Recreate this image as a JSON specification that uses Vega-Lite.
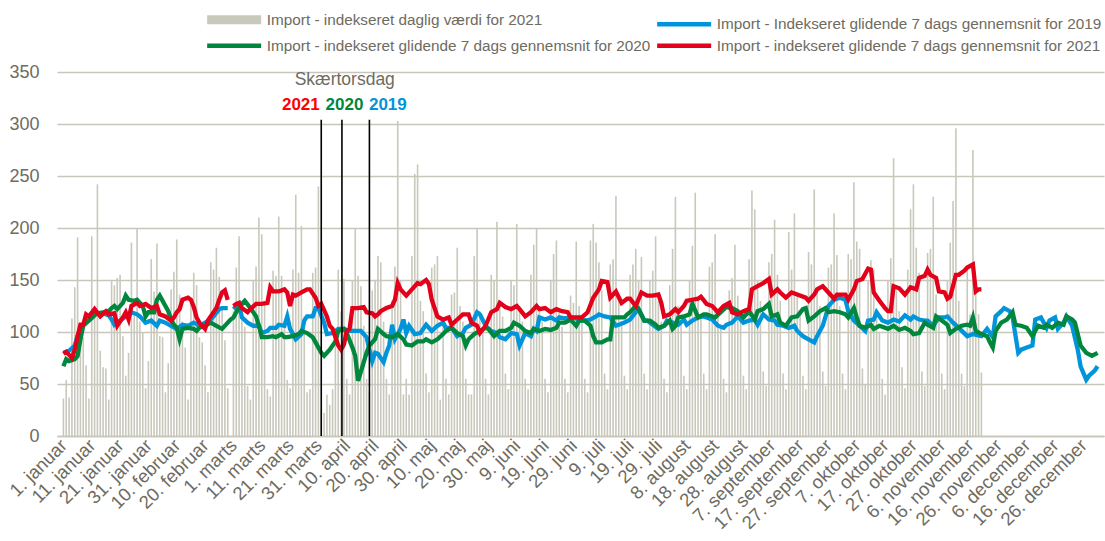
{
"$schema": "https://vega.github.io/schema/vega-lite/v6.json",
"width": 1047, "height": 364,
"autosize": {"type": "none"},
"padding": {"left": 57, "top": 72, "right": 1, "bottom": 105},
"background": "white",
"config": {"view": {"stroke": null}, "font": "Liberation Sans, Arial, sans-serif",
 "axisX": {"labelAngle": -45, "labelAlign": "right", "labelBaseline": "middle", "labelFontSize": 18.5, "labelColor": "#6e6b61",
    "labelPadding": 6, "labelBound": false, "labelFlush": false, "ticks": false, "grid": false,
    "domain": true, "domainColor": "#c8c6ba", "domainWidth": 1.5, "title": null},
 "axisY": {"title": null, "grid": true, "gridColor": "#c8c6ba", "gridWidth": 1.3,
    "domain": false, "ticks": false, "labelFontSize": 18, "labelColor": "#6e6b61", "labelPadding": 18},
 "legend": {"title": null, "orient": "none", "legendX": 169.5, "legendY": -60, "columns": 2, "direction": "horizontal",
    "symbolType": "stroke", "symbolSize": 2916, "symbolStrokeWidth": 4.5,
    "labelFontSize": 15.3, "labelColor": "#6e6b61", "labelOffset": 25, "labelLimit": 0,
    "columnPadding": -3, "rowPadding": -6, "padding": 0}
},
"datasets": {
"daily": [
{"d":1,"v":36},{"d":2,"v":54},{"d":3,"v":37},
{"d":4,"v":113},{"d":5,"v":143},{"d":6,"v":191},{"d":7,"v":108},{"d":8,"v":95},{"d":9,"v":68},{"d":10,"v":36},
{"d":11,"v":192},{"d":12,"v":120},{"d":13,"v":242},{"d":14,"v":82},{"d":15,"v":66},{"d":16,"v":65},{"d":17,"v":35},
{"d":18,"v":150},{"d":19,"v":145},{"d":20,"v":152},{"d":21,"v":155},{"d":22,"v":96},{"d":23,"v":58},{"d":24,"v":80},
{"d":25,"v":186},{"d":26,"v":120},{"d":27,"v":200},{"d":28,"v":110},{"d":29,"v":100},{"d":30,"v":46},{"d":31,"v":72},
{"d":32,"v":170},{"d":33,"v":139},{"d":34,"v":185},{"d":35,"v":96},{"d":36,"v":95},{"d":37,"v":42},{"d":38,"v":70},
{"d":39,"v":141},{"d":40,"v":158},{"d":41,"v":189},{"d":42,"v":136},{"d":43,"v":110},{"d":44,"v":85},{"d":45,"v":35},
{"d":46,"v":130},{"d":47,"v":157},{"d":48,"v":145},{"d":49,"v":95},{"d":50,"v":90},{"d":51,"v":68},{"d":52,"v":42},
{"d":53,"v":167},{"d":54,"v":160},{"d":55,"v":181},{"d":56,"v":153},{"d":57,"v":125},{"d":58,"v":92},{"d":59,"v":46},
{"d":61,"v":120},{"d":62,"v":162},{"d":63,"v":192},{"d":64,"v":112},{"d":65,"v":105},{"d":66,"v":48},{"d":67,"v":35},
{"d":68,"v":150},{"d":69,"v":163},{"d":70,"v":210},{"d":71,"v":194},{"d":72,"v":130},{"d":73,"v":45},{"d":74,"v":38},
{"d":75,"v":159},{"d":76,"v":154},{"d":77,"v":211},{"d":78,"v":154},{"d":79,"v":110},{"d":80,"v":54},{"d":81,"v":46},
{"d":82,"v":160},{"d":83,"v":232},{"d":84,"v":157},{"d":85,"v":202},{"d":86,"v":115},{"d":87,"v":42},{"d":88,"v":45},
{"d":89,"v":157},{"d":90,"v":162},{"d":91,"v":240},{"d":92,"v":26},{"d":93,"v":22},{"d":94,"v":40},{"d":95,"v":30},
{"d":96,"v":45},{"d":97,"v":100},{"d":98,"v":160},{"d":99,"v":120},{"d":100,"v":151},{"d":101,"v":55},{"d":102,"v":40},
{"d":103,"v":150},{"d":104,"v":200},{"d":105,"v":154},{"d":106,"v":144},{"d":107,"v":106},{"d":108,"v":55},{"d":109,"v":42},
{"d":110,"v":140},{"d":111,"v":150},{"d":112,"v":173},{"d":113,"v":167},{"d":114,"v":110},{"d":115,"v":55},{"d":116,"v":40},
{"d":117,"v":130},{"d":118,"v":163},{"d":119,"v":303},{"d":120,"v":150},{"d":121,"v":40},{"d":122,"v":55},{"d":123,"v":40},
{"d":124,"v":173},{"d":125,"v":252},{"d":126,"v":261},{"d":127,"v":130},{"d":128,"v":120},{"d":129,"v":60},{"d":130,"v":42},
{"d":131,"v":162},{"d":132,"v":165},{"d":133,"v":173},{"d":134,"v":35},{"d":135,"v":110},{"d":136,"v":55},{"d":137,"v":40},
{"d":138,"v":136},{"d":139,"v":138},{"d":140,"v":181},{"d":141,"v":125},{"d":142,"v":110},{"d":143,"v":55},{"d":144,"v":40},
{"d":145,"v":40},{"d":146,"v":173},{"d":147,"v":200},{"d":148,"v":120},{"d":149,"v":105},{"d":150,"v":55},{"d":151,"v":40},
{"d":152,"v":155},{"d":153,"v":150},{"d":154,"v":206},{"d":155,"v":130},{"d":156,"v":115},{"d":157,"v":60},{"d":158,"v":45},
{"d":159,"v":150},{"d":160,"v":145},{"d":161,"v":204},{"d":162,"v":125},{"d":163,"v":110},{"d":164,"v":55},{"d":165,"v":45},
{"d":166,"v":155},{"d":167,"v":184},{"d":168,"v":199},{"d":169,"v":120},{"d":170,"v":110},{"d":171,"v":55},{"d":172,"v":42},
{"d":173,"v":150},{"d":174,"v":175},{"d":175,"v":188},{"d":176,"v":120},{"d":177,"v":105},{"d":178,"v":55},{"d":179,"v":42},
{"d":180,"v":135},{"d":181,"v":128},{"d":182,"v":187},{"d":183,"v":125},{"d":184,"v":115},{"d":185,"v":55},{"d":186,"v":42},
{"d":187,"v":188},{"d":188,"v":204},{"d":189,"v":186},{"d":190,"v":167},{"d":191,"v":140},{"d":192,"v":60},{"d":193,"v":45},
{"d":194,"v":165},{"d":195,"v":170},{"d":196,"v":231},{"d":197,"v":135},{"d":198,"v":110},{"d":199,"v":58},{"d":200,"v":45},
{"d":201,"v":155},{"d":202,"v":165},{"d":203,"v":180},{"d":204,"v":150},{"d":205,"v":172},{"d":206,"v":60},{"d":207,"v":45},
{"d":208,"v":150},{"d":209,"v":159},{"d":210,"v":192},{"d":211,"v":130},{"d":212,"v":110},{"d":213,"v":55},{"d":214,"v":42},
{"d":215,"v":145},{"d":216,"v":180},{"d":217,"v":230},{"d":218,"v":125},{"d":219,"v":110},{"d":220,"v":58},{"d":221,"v":45},
{"d":222,"v":150},{"d":223,"v":183},{"d":224,"v":234},{"d":225,"v":130},{"d":226,"v":115},{"d":227,"v":60},{"d":228,"v":45},
{"d":229,"v":163},{"d":230,"v":167},{"d":231,"v":194},{"d":232,"v":120},{"d":233,"v":105},{"d":234,"v":55},{"d":235,"v":42},
{"d":236,"v":140},{"d":237,"v":152},{"d":238,"v":184},{"d":239,"v":135},{"d":240,"v":110},{"d":241,"v":58},{"d":242,"v":45},
{"d":243,"v":170},{"d":244,"v":236},{"d":245,"v":218},{"d":246,"v":150},{"d":247,"v":130},{"d":248,"v":62},{"d":249,"v":48},
{"d":250,"v":167},{"d":251,"v":175},{"d":252,"v":208},{"d":253,"v":155},{"d":254,"v":130},{"d":255,"v":60},{"d":256,"v":45},
{"d":257,"v":196},{"d":258,"v":160},{"d":259,"v":214},{"d":260,"v":135},{"d":261,"v":120},{"d":262,"v":58},{"d":263,"v":45},
{"d":264,"v":177},{"d":265,"v":165},{"d":266,"v":237},{"d":267,"v":140},{"d":268,"v":125},{"d":269,"v":62},{"d":270,"v":48},
{"d":271,"v":162},{"d":272,"v":165},{"d":273,"v":214},{"d":274,"v":174},{"d":275,"v":125},{"d":276,"v":60},{"d":277,"v":45},
{"d":278,"v":175},{"d":279,"v":170},{"d":280,"v":244},{"d":281,"v":187},{"d":282,"v":180},{"d":283,"v":65},{"d":284,"v":50},
{"d":285,"v":150},{"d":286,"v":169},{"d":287,"v":160},{"d":288,"v":120},{"d":289,"v":100},{"d":290,"v":55},{"d":291,"v":40},
{"d":292,"v":150},{"d":293,"v":171},{"d":294,"v":267},{"d":295,"v":140},{"d":296,"v":120},{"d":297,"v":66},{"d":298,"v":46},
{"d":299,"v":160},{"d":300,"v":218},{"d":301,"v":242},{"d":302,"v":181},{"d":303,"v":157},{"d":304,"v":62},{"d":305,"v":48},
{"d":306,"v":176},{"d":307,"v":180},{"d":308,"v":230},{"d":309,"v":136},{"d":310,"v":110},{"d":311,"v":60},{"d":312,"v":45},
{"d":313,"v":150},{"d":314,"v":186},{"d":315,"v":226},{"d":316,"v":296},{"d":317,"v":130},{"d":318,"v":60},{"d":319,"v":48},
{"d":320,"v":160},{"d":321,"v":117},{"d":322,"v":275},{"d":323,"v":150},{"d":324,"v":117},{"d":325,"v":61}
],
"avg": [
{"d":1,"a":"2019","v":80},{"d":3,"a":"2019","v":82},{"d":5,"a":"2019","v":87},{"d":6,"a":"2019","v":96},{"d":8,"a":"2019","v":107},{"d":10,"a":"2019","v":112},{"d":12,"a":"2019","v":117},{"d":13,"a":"2019","v":118},{"d":15,"a":"2019","v":118},{"d":17,"a":"2019","v":116},{"d":18,"a":"2019","v":112},{"d":19,"a":"2019","v":107},{"d":21,"a":"2019","v":111},{"d":23,"a":"2019","v":115},{"d":24,"a":"2019","v":115},{"d":25,"a":"2019","v":119},{"d":27,"a":"2019","v":117},{"d":28,"a":"2019","v":115},{"d":30,"a":"2019","v":109},{"d":32,"a":"2019","v":111},{"d":34,"a":"2019","v":106},{"d":35,"a":"2019","v":111},{"d":37,"a":"2019","v":109},{"d":39,"a":"2019","v":106},{"d":41,"a":"2019","v":103},{"d":43,"a":"2019","v":107},{"d":45,"a":"2019","v":106},{"d":47,"a":"2019","v":109},{"d":49,"a":"2019","v":106},{"d":51,"a":"2019","v":109},{"d":53,"a":"2019","v":112},{"d":54,"a":"2019","v":115},{"d":56,"a":"2019","v":122},{"d":57,"a":"2019","v":123},{"d":59,"a":"2019","v":123},{"d":60,"a":"2019","v":null},{"d":61,"a":"2019","v":122},{"d":63,"a":"2019","v":127},{"d":64,"a":"2019","v":114},{"d":66,"a":"2019","v":109},{"d":68,"a":"2019","v":106},{"d":70,"a":"2019","v":106},{"d":71,"a":"2019","v":99},{"d":73,"a":"2019","v":101},{"d":74,"a":"2019","v":104},{"d":76,"a":"2019","v":104},{"d":77,"a":"2019","v":107},{"d":79,"a":"2019","v":106},{"d":80,"a":"2019","v":115},{"d":81,"a":"2019","v":103},{"d":83,"a":"2019","v":93},{"d":85,"a":"2019","v":98},{"d":86,"a":"2019","v":111},{"d":87,"a":"2019","v":115},{"d":89,"a":"2019","v":115},{"d":90,"a":"2019","v":123},{"d":91,"a":"2019","v":123},{"d":93,"a":"2019","v":109},{"d":94,"a":"2019","v":98},{"d":96,"a":"2019","v":99},{"d":98,"a":"2019","v":103},{"d":100,"a":"2019","v":103},{"d":102,"a":"2019","v":101},{"d":104,"a":"2019","v":101},{"d":106,"a":"2019","v":101},{"d":108,"a":"2019","v":95},{"d":109,"a":"2019","v":83},{"d":110,"a":"2019","v":72},{"d":111,"a":"2019","v":80},{"d":112,"a":"2019","v":79},{"d":114,"a":"2019","v":71},{"d":115,"a":"2019","v":80},{"d":116,"a":"2019","v":87},{"d":117,"a":"2019","v":107},{"d":118,"a":"2019","v":93},{"d":120,"a":"2019","v":103},{"d":121,"a":"2019","v":112},{"d":122,"a":"2019","v":99},{"d":123,"a":"2019","v":106},{"d":125,"a":"2019","v":98},{"d":127,"a":"2019","v":99},{"d":129,"a":"2019","v":107},{"d":131,"a":"2019","v":101},{"d":133,"a":"2019","v":106},{"d":135,"a":"2019","v":109},{"d":136,"a":"2019","v":104},{"d":138,"a":"2019","v":104},{"d":140,"a":"2019","v":96},{"d":142,"a":"2019","v":99},{"d":143,"a":"2019","v":104},{"d":145,"a":"2019","v":107},{"d":147,"a":"2019","v":119},{"d":148,"a":"2019","v":117},{"d":150,"a":"2019","v":106},{"d":152,"a":"2019","v":101},{"d":154,"a":"2019","v":99},{"d":155,"a":"2019","v":95},{"d":157,"a":"2019","v":93},{"d":159,"a":"2019","v":99},{"d":161,"a":"2019","v":98},{"d":162,"a":"2019","v":87},{"d":164,"a":"2019","v":99},{"d":166,"a":"2019","v":96},{"d":167,"a":"2019","v":103},{"d":168,"a":"2019","v":101},{"d":169,"a":"2019","v":114},{"d":171,"a":"2019","v":112},{"d":173,"a":"2019","v":114},{"d":175,"a":"2019","v":111},{"d":176,"a":"2019","v":114},{"d":178,"a":"2019","v":113},{"d":180,"a":"2019","v":114},{"d":182,"a":"2019","v":113},{"d":183,"a":"2019","v":111},{"d":185,"a":"2019","v":111},{"d":187,"a":"2019","v":112},{"d":189,"a":"2019","v":115},{"d":190,"a":"2019","v":117},{"d":192,"a":"2019","v":115},{"d":194,"a":"2019","v":114},{"d":196,"a":"2019","v":106},{"d":197,"a":"2019","v":107},{"d":199,"a":"2019","v":109},{"d":201,"a":"2019","v":112},{"d":203,"a":"2019","v":119},{"d":204,"a":"2019","v":122},{"d":206,"a":"2019","v":111},{"d":207,"a":"2019","v":111},{"d":209,"a":"2019","v":107},{"d":211,"a":"2019","v":103},{"d":213,"a":"2019","v":106},{"d":214,"a":"2019","v":111},{"d":216,"a":"2019","v":109},{"d":218,"a":"2019","v":107},{"d":220,"a":"2019","v":112},{"d":221,"a":"2019","v":107},{"d":223,"a":"2019","v":111},{"d":225,"a":"2019","v":114},{"d":227,"a":"2019","v":115},{"d":228,"a":"2019","v":114},{"d":230,"a":"2019","v":112},{"d":232,"a":"2019","v":106},{"d":234,"a":"2019","v":104},{"d":235,"a":"2019","v":107},{"d":237,"a":"2019","v":109},{"d":239,"a":"2019","v":115},{"d":241,"a":"2019","v":109},{"d":243,"a":"2019","v":111},{"d":245,"a":"2019","v":112},{"d":246,"a":"2019","v":107},{"d":248,"a":"2019","v":117},{"d":250,"a":"2019","v":112},{"d":252,"a":"2019","v":111},{"d":253,"a":"2019","v":107},{"d":255,"a":"2019","v":106},{"d":257,"a":"2019","v":104},{"d":259,"a":"2019","v":106},{"d":260,"a":"2019","v":101},{"d":262,"a":"2019","v":96},{"d":264,"a":"2019","v":93},{"d":266,"a":"2019","v":90},{"d":267,"a":"2019","v":96},{"d":269,"a":"2019","v":106},{"d":270,"a":"2019","v":115},{"d":271,"a":"2019","v":125},{"d":273,"a":"2019","v":131},{"d":275,"a":"2019","v":133},{"d":277,"a":"2019","v":131},{"d":278,"a":"2019","v":120},{"d":280,"a":"2019","v":111},{"d":282,"a":"2019","v":106},{"d":284,"a":"2019","v":101},{"d":285,"a":"2019","v":111},{"d":287,"a":"2019","v":112},{"d":288,"a":"2019","v":119},{"d":290,"a":"2019","v":111},{"d":292,"a":"2019","v":109},{"d":294,"a":"2019","v":112},{"d":296,"a":"2019","v":110},{"d":298,"a":"2019","v":116},{"d":300,"a":"2019","v":112},{"d":301,"a":"2019","v":115},{"d":303,"a":"2019","v":112},{"d":305,"a":"2019","v":111},{"d":306,"a":"2019","v":111},{"d":308,"a":"2019","v":106},{"d":310,"a":"2019","v":114},{"d":312,"a":"2019","v":114},{"d":313,"a":"2019","v":115},{"d":315,"a":"2019","v":109},{"d":317,"a":"2019","v":104},{"d":320,"a":"2019","v":96},{"d":322,"a":"2019","v":98},{"d":325,"a":"2019","v":96},{"d":327,"a":"2019","v":103},{"d":329,"a":"2019","v":95},{"d":330,"a":"2019","v":115},{"d":332,"a":"2019","v":120},{"d":333,"a":"2019","v":123},{"d":335,"a":"2019","v":120},{"d":336,"a":"2019","v":114},{"d":338,"a":"2019","v":80},{"d":339,"a":"2019","v":83},{"d":341,"a":"2019","v":85},{"d":343,"a":"2019","v":87},{"d":344,"a":"2019","v":112},{"d":346,"a":"2019","v":114},{"d":348,"a":"2019","v":104},{"d":349,"a":"2019","v":111},{"d":351,"a":"2019","v":114},{"d":352,"a":"2019","v":103},{"d":354,"a":"2019","v":109},{"d":355,"a":"2019","v":115},{"d":357,"a":"2019","v":106},{"d":359,"a":"2019","v":83},{"d":360,"a":"2019","v":67},{"d":362,"a":"2019","v":54},{"d":363,"a":"2019","v":58},{"d":365,"a":"2019","v":63},{"d":366,"a":"2019","v":67},
{"d":1,"a":"2020","v":67},{"d":2,"a":"2020","v":74},{"d":3,"a":"2020","v":72},{"d":5,"a":"2020","v":74},{"d":6,"a":"2020","v":77},{"d":7,"a":"2020","v":93},{"d":8,"a":"2020","v":106},{"d":10,"a":"2020","v":111},{"d":12,"a":"2020","v":116},{"d":13,"a":"2020","v":118},{"d":15,"a":"2020","v":119},{"d":17,"a":"2020","v":120},{"d":18,"a":"2020","v":123},{"d":19,"a":"2020","v":125},{"d":20,"a":"2020","v":122},{"d":22,"a":"2020","v":128},{"d":23,"a":"2020","v":135},{"d":24,"a":"2020","v":131},{"d":26,"a":"2020","v":130},{"d":27,"a":"2020","v":131},{"d":29,"a":"2020","v":125},{"d":30,"a":"2020","v":115},{"d":31,"a":"2020","v":119},{"d":33,"a":"2020","v":119},{"d":34,"a":"2020","v":131},{"d":35,"a":"2020","v":135},{"d":37,"a":"2020","v":125},{"d":38,"a":"2020","v":120},{"d":39,"a":"2020","v":112},{"d":40,"a":"2020","v":107},{"d":41,"a":"2020","v":104},{"d":42,"a":"2020","v":93},{"d":43,"a":"2020","v":103},{"d":45,"a":"2020","v":104},{"d":47,"a":"2020","v":103},{"d":48,"a":"2020","v":101},{"d":49,"a":"2020","v":104},{"d":51,"a":"2020","v":106},{"d":53,"a":"2020","v":109},{"d":55,"a":"2020","v":106},{"d":57,"a":"2020","v":103},{"d":59,"a":"2020","v":109},{"d":60,"a":"2020","v":112},{"d":61,"a":"2020","v":114},{"d":62,"a":"2020","v":119},{"d":64,"a":"2020","v":127},{"d":65,"a":"2020","v":130},{"d":67,"a":"2020","v":123},{"d":69,"a":"2020","v":115},{"d":70,"a":"2020","v":106},{"d":71,"a":"2020","v":95},{"d":73,"a":"2020","v":95},{"d":75,"a":"2020","v":96},{"d":76,"a":"2020","v":95},{"d":78,"a":"2020","v":98},{"d":79,"a":"2020","v":95},{"d":80,"a":"2020","v":95},{"d":82,"a":"2020","v":96},{"d":84,"a":"2020","v":98},{"d":85,"a":"2020","v":101},{"d":87,"a":"2020","v":99},{"d":89,"a":"2020","v":95},{"d":90,"a":"2020","v":90},{"d":92,"a":"2020","v":80},{"d":93,"a":"2020","v":77},{"d":95,"a":"2020","v":83},{"d":97,"a":"2020","v":91},{"d":98,"a":"2020","v":101},{"d":100,"a":"2020","v":103},{"d":101,"a":"2020","v":99},{"d":103,"a":"2020","v":85},{"d":104,"a":"2020","v":77},{"d":105,"a":"2020","v":53},{"d":106,"a":"2020","v":62},{"d":108,"a":"2020","v":80},{"d":109,"a":"2020","v":87},{"d":111,"a":"2020","v":93},{"d":112,"a":"2020","v":103},{"d":114,"a":"2020","v":98},{"d":115,"a":"2020","v":96},{"d":117,"a":"2020","v":95},{"d":119,"a":"2020","v":98},{"d":121,"a":"2020","v":93},{"d":122,"a":"2020","v":88},{"d":124,"a":"2020","v":87},{"d":126,"a":"2020","v":91},{"d":128,"a":"2020","v":91},{"d":129,"a":"2020","v":93},{"d":131,"a":"2020","v":90},{"d":133,"a":"2020","v":93},{"d":135,"a":"2020","v":98},{"d":136,"a":"2020","v":101},{"d":138,"a":"2020","v":104},{"d":140,"a":"2020","v":99},{"d":142,"a":"2020","v":96},{"d":143,"a":"2020","v":87},{"d":144,"a":"2020","v":93},{"d":146,"a":"2020","v":98},{"d":148,"a":"2020","v":101},{"d":150,"a":"2020","v":104},{"d":151,"a":"2020","v":103},{"d":153,"a":"2020","v":96},{"d":155,"a":"2020","v":101},{"d":157,"a":"2020","v":101},{"d":159,"a":"2020","v":104},{"d":160,"a":"2020","v":109},{"d":162,"a":"2020","v":106},{"d":164,"a":"2020","v":101},{"d":166,"a":"2020","v":99},{"d":167,"a":"2020","v":103},{"d":169,"a":"2020","v":101},{"d":171,"a":"2020","v":103},{"d":173,"a":"2020","v":102},{"d":175,"a":"2020","v":104},{"d":176,"a":"2020","v":109},{"d":178,"a":"2020","v":109},{"d":180,"a":"2020","v":112},{"d":182,"a":"2020","v":106},{"d":183,"a":"2020","v":111},{"d":185,"a":"2020","v":111},{"d":187,"a":"2020","v":106},{"d":188,"a":"2020","v":96},{"d":189,"a":"2020","v":90},{"d":191,"a":"2020","v":90},{"d":193,"a":"2020","v":93},{"d":194,"a":"2020","v":93},{"d":195,"a":"2020","v":114},{"d":197,"a":"2020","v":114},{"d":199,"a":"2020","v":114},{"d":200,"a":"2020","v":117},{"d":201,"a":"2020","v":119},{"d":203,"a":"2020","v":125},{"d":204,"a":"2020","v":122},{"d":206,"a":"2020","v":111},{"d":208,"a":"2020","v":111},{"d":210,"a":"2020","v":107},{"d":211,"a":"2020","v":104},{"d":213,"a":"2020","v":106},{"d":215,"a":"2020","v":111},{"d":216,"a":"2020","v":103},{"d":217,"a":"2020","v":106},{"d":218,"a":"2020","v":114},{"d":220,"a":"2020","v":115},{"d":222,"a":"2020","v":117},{"d":223,"a":"2020","v":127},{"d":225,"a":"2020","v":114},{"d":227,"a":"2020","v":117},{"d":228,"a":"2020","v":117},{"d":230,"a":"2020","v":115},{"d":231,"a":"2020","v":114},{"d":233,"a":"2020","v":119},{"d":235,"a":"2020","v":124},{"d":237,"a":"2020","v":123},{"d":239,"a":"2020","v":120},{"d":241,"a":"2020","v":114},{"d":243,"a":"2020","v":120},{"d":245,"a":"2020","v":112},{"d":246,"a":"2020","v":120},{"d":248,"a":"2020","v":122},{"d":250,"a":"2020","v":127},{"d":251,"a":"2020","v":115},{"d":253,"a":"2020","v":117},{"d":254,"a":"2020","v":109},{"d":256,"a":"2020","v":106},{"d":258,"a":"2020","v":114},{"d":260,"a":"2020","v":115},{"d":262,"a":"2020","v":122},{"d":263,"a":"2020","v":123},{"d":264,"a":"2020","v":111},{"d":266,"a":"2020","v":115},{"d":268,"a":"2020","v":120},{"d":270,"a":"2020","v":123},{"d":271,"a":"2020","v":119},{"d":273,"a":"2020","v":120},{"d":275,"a":"2020","v":119},{"d":277,"a":"2020","v":117},{"d":278,"a":"2020","v":114},{"d":280,"a":"2020","v":123},{"d":281,"a":"2020","v":114},{"d":282,"a":"2020","v":106},{"d":284,"a":"2020","v":104},{"d":286,"a":"2020","v":107},{"d":287,"a":"2020","v":103},{"d":289,"a":"2020","v":106},{"d":291,"a":"2020","v":104},{"d":292,"a":"2020","v":103},{"d":294,"a":"2020","v":106},{"d":296,"a":"2020","v":102},{"d":298,"a":"2020","v":104},{"d":300,"a":"2020","v":101},{"d":301,"a":"2020","v":98},{"d":303,"a":"2020","v":99},{"d":305,"a":"2020","v":109},{"d":306,"a":"2020","v":107},{"d":308,"a":"2020","v":104},{"d":309,"a":"2020","v":115},{"d":311,"a":"2020","v":111},{"d":313,"a":"2020","v":107},{"d":314,"a":"2020","v":99},{"d":316,"a":"2020","v":103},{"d":318,"a":"2020","v":106},{"d":320,"a":"2020","v":107},{"d":321,"a":"2020","v":106},{"d":322,"a":"2020","v":114},{"d":323,"a":"2020","v":101},{"d":325,"a":"2020","v":98},{"d":327,"a":"2020","v":96},{"d":328,"a":"2020","v":90},{"d":329,"a":"2020","v":85},{"d":330,"a":"2020","v":101},{"d":332,"a":"2020","v":109},{"d":334,"a":"2020","v":112},{"d":336,"a":"2020","v":119},{"d":337,"a":"2020","v":107},{"d":339,"a":"2020","v":106},{"d":341,"a":"2020","v":104},{"d":343,"a":"2020","v":96},{"d":345,"a":"2020","v":106},{"d":347,"a":"2020","v":104},{"d":348,"a":"2020","v":107},{"d":350,"a":"2020","v":104},{"d":352,"a":"2020","v":109},{"d":354,"a":"2020","v":107},{"d":355,"a":"2020","v":115},{"d":357,"a":"2020","v":112},{"d":358,"a":"2020","v":109},{"d":360,"a":"2020","v":87},{"d":362,"a":"2020","v":80},{"d":364,"a":"2020","v":77},{"d":366,"a":"2020","v":80},
{"d":1,"a":"2021","v":79},{"d":2,"a":"2021","v":81},{"d":3,"a":"2021","v":78},{"d":4,"a":"2021","v":75},{"d":5,"a":"2021","v":83},{"d":6,"a":"2021","v":96},{"d":7,"a":"2021","v":107},{"d":8,"a":"2021","v":107},{"d":9,"a":"2021","v":117},{"d":10,"a":"2021","v":115},{"d":12,"a":"2021","v":122},{"d":14,"a":"2021","v":115},{"d":16,"a":"2021","v":120},{"d":17,"a":"2021","v":117},{"d":19,"a":"2021","v":118},{"d":20,"a":"2021","v":106},{"d":22,"a":"2021","v":114},{"d":23,"a":"2021","v":119},{"d":24,"a":"2021","v":112},{"d":25,"a":"2021","v":125},{"d":27,"a":"2021","v":128},{"d":28,"a":"2021","v":125},{"d":30,"a":"2021","v":127},{"d":32,"a":"2021","v":123},{"d":34,"a":"2021","v":125},{"d":35,"a":"2021","v":117},{"d":37,"a":"2021","v":115},{"d":39,"a":"2021","v":111},{"d":40,"a":"2021","v":114},{"d":41,"a":"2021","v":119},{"d":42,"a":"2021","v":122},{"d":43,"a":"2021","v":131},{"d":45,"a":"2021","v":133},{"d":46,"a":"2021","v":131},{"d":47,"a":"2021","v":124},{"d":48,"a":"2021","v":114},{"d":49,"a":"2021","v":109},{"d":51,"a":"2021","v":103},{"d":52,"a":"2021","v":111},{"d":54,"a":"2021","v":119},{"d":55,"a":"2021","v":123},{"d":56,"a":"2021","v":131},{"d":57,"a":"2021","v":138},{"d":58,"a":"2021","v":140},{"d":59,"a":"2021","v":131},{"d":60,"a":"2021","v":null},{"d":61,"a":"2021","v":125},{"d":62,"a":"2021","v":127},{"d":63,"a":"2021","v":128},{"d":64,"a":"2021","v":123},{"d":66,"a":"2021","v":119},{"d":67,"a":"2021","v":122},{"d":69,"a":"2021","v":127},{"d":71,"a":"2021","v":127},{"d":73,"a":"2021","v":128},{"d":74,"a":"2021","v":143},{"d":75,"a":"2021","v":139},{"d":77,"a":"2021","v":139},{"d":79,"a":"2021","v":141},{"d":80,"a":"2021","v":138},{"d":81,"a":"2021","v":125},{"d":82,"a":"2021","v":136},{"d":83,"a":"2021","v":135},{"d":85,"a":"2021","v":138},{"d":87,"a":"2021","v":141},{"d":88,"a":"2021","v":141},{"d":90,"a":"2021","v":133},{"d":91,"a":"2021","v":125},{"d":92,"a":"2021","v":127},{"d":94,"a":"2021","v":115},{"d":95,"a":"2021","v":106},{"d":96,"a":"2021","v":103},{"d":97,"a":"2021","v":95},{"d":98,"a":"2021","v":87},{"d":99,"a":"2021","v":83},{"d":100,"a":"2021","v":88},{"d":101,"a":"2021","v":101},{"d":102,"a":"2021","v":103},{"d":103,"a":"2021","v":123},{"d":105,"a":"2021","v":123},{"d":107,"a":"2021","v":124},{"d":108,"a":"2021","v":119},{"d":110,"a":"2021","v":118},{"d":111,"a":"2021","v":115},{"d":112,"a":"2021","v":117},{"d":113,"a":"2021","v":120},{"d":115,"a":"2021","v":123},{"d":117,"a":"2021","v":125},{"d":118,"a":"2021","v":131},{"d":119,"a":"2021","v":147},{"d":120,"a":"2021","v":141},{"d":122,"a":"2021","v":135},{"d":124,"a":"2021","v":141},{"d":126,"a":"2021","v":147},{"d":127,"a":"2021","v":146},{"d":129,"a":"2021","v":150},{"d":130,"a":"2021","v":146},{"d":131,"a":"2021","v":131},{"d":133,"a":"2021","v":115},{"d":135,"a":"2021","v":112},{"d":137,"a":"2021","v":114},{"d":138,"a":"2021","v":107},{"d":140,"a":"2021","v":112},{"d":142,"a":"2021","v":117},{"d":144,"a":"2021","v":117},{"d":145,"a":"2021","v":109},{"d":147,"a":"2021","v":106},{"d":148,"a":"2021","v":99},{"d":150,"a":"2021","v":106},{"d":152,"a":"2021","v":119},{"d":154,"a":"2021","v":122},{"d":155,"a":"2021","v":128},{"d":157,"a":"2021","v":124},{"d":159,"a":"2021","v":122},{"d":161,"a":"2021","v":125},{"d":162,"a":"2021","v":122},{"d":164,"a":"2021","v":115},{"d":166,"a":"2021","v":119},{"d":168,"a":"2021","v":125},{"d":169,"a":"2021","v":122},{"d":171,"a":"2021","v":123},{"d":173,"a":"2021","v":119},{"d":175,"a":"2021","v":122},{"d":177,"a":"2021","v":120},{"d":179,"a":"2021","v":119},{"d":180,"a":"2021","v":114},{"d":182,"a":"2021","v":114},{"d":184,"a":"2021","v":114},{"d":186,"a":"2021","v":119},{"d":188,"a":"2021","v":133},{"d":190,"a":"2021","v":141},{"d":191,"a":"2021","v":149},{"d":193,"a":"2021","v":148},{"d":194,"a":"2021","v":133},{"d":196,"a":"2021","v":139},{"d":198,"a":"2021","v":128},{"d":200,"a":"2021","v":132},{"d":201,"a":"2021","v":132},{"d":203,"a":"2021","v":125},{"d":205,"a":"2021","v":138},{"d":207,"a":"2021","v":135},{"d":209,"a":"2021","v":135},{"d":211,"a":"2021","v":136},{"d":212,"a":"2021","v":128},{"d":213,"a":"2021","v":115},{"d":215,"a":"2021","v":117},{"d":217,"a":"2021","v":122},{"d":218,"a":"2021","v":119},{"d":220,"a":"2021","v":125},{"d":221,"a":"2021","v":130},{"d":223,"a":"2021","v":131},{"d":225,"a":"2021","v":132},{"d":226,"a":"2021","v":134},{"d":228,"a":"2021","v":127},{"d":230,"a":"2021","v":125},{"d":232,"a":"2021","v":119},{"d":234,"a":"2021","v":125},{"d":236,"a":"2021","v":128},{"d":237,"a":"2021","v":119},{"d":239,"a":"2021","v":117},{"d":241,"a":"2021","v":120},{"d":243,"a":"2021","v":122},{"d":244,"a":"2021","v":141},{"d":246,"a":"2021","v":144},{"d":248,"a":"2021","v":147},{"d":250,"a":"2021","v":151},{"d":251,"a":"2021","v":136},{"d":253,"a":"2021","v":141},{"d":254,"a":"2021","v":138},{"d":256,"a":"2021","v":133},{"d":258,"a":"2021","v":138},{"d":260,"a":"2021","v":136},{"d":263,"a":"2021","v":133},{"d":264,"a":"2021","v":130},{"d":266,"a":"2021","v":136},{"d":267,"a":"2021","v":141},{"d":269,"a":"2021","v":144},{"d":271,"a":"2021","v":138},{"d":273,"a":"2021","v":132},{"d":274,"a":"2021","v":136},{"d":277,"a":"2021","v":136},{"d":278,"a":"2021","v":131},{"d":280,"a":"2021","v":141},{"d":281,"a":"2021","v":149},{"d":283,"a":"2021","v":151},{"d":285,"a":"2021","v":161},{"d":286,"a":"2021","v":160},{"d":287,"a":"2021","v":138},{"d":289,"a":"2021","v":130},{"d":291,"a":"2021","v":123},{"d":292,"a":"2021","v":120},{"d":293,"a":"2021","v":120},{"d":294,"a":"2021","v":144},{"d":296,"a":"2021","v":142},{"d":298,"a":"2021","v":136},{"d":300,"a":"2021","v":143},{"d":302,"a":"2021","v":141},{"d":303,"a":"2021","v":152},{"d":305,"a":"2021","v":154},{"d":306,"a":"2021","v":160},{"d":307,"a":"2021","v":155},{"d":309,"a":"2021","v":152},{"d":310,"a":"2021","v":139},{"d":312,"a":"2021","v":138},{"d":313,"a":"2021","v":132},{"d":314,"a":"2021","v":134},{"d":316,"a":"2021","v":155},{"d":317,"a":"2021","v":155},{"d":319,"a":"2021","v":159},{"d":320,"a":"2021","v":162},{"d":322,"a":"2021","v":165},{"d":323,"a":"2021","v":139},{"d":324,"a":"2021","v":141},{"d":325,"a":"2021","v":141}
],
"paaske": [{"a":"2021","d":92},{"a":"2020","d":99.3},{"a":"2019","d":109}],
"aarstal": [{"a":"2021","d":84.8,"v":318},{"a":"2020","d":100.2,"v":318},{"a":"2019","d":115.5,"v":318}],
"overskrift": [{"t":"Skærtorsdag","d":100.3,"v":342}]
},
"encoding": {
 "x": {"field": "d", "type": "quantitative", "scale": {"domain": [0.5, 366.5], "nice": false, "zero": false},
  "axis": {"values": [1,11,21,31,41,51,61,71,81,91,101,111,121,131,141,151,161,171,181,191,201,211,221,231,241,251,261,271,281,291,301,311,321,331,341,351,361],
   "labelOverlap": false,
   "labelExpr": "['1. januar','11. januar','21. januar','31. januar','10. februar','20. februar','1. marts','11. marts','21. marts','31. marts','10. april','20. april','30. april','10. maj','20. maj','30. maj','9. juni','19. juni','29. juni','9. juli','19. juli','29. juli','8. august','18. august','28. august','7. september','17. september','27. september','7. oktober','17. oktober','27. oktober','6. november','16. november','26. november','6. december','16. december','26. december'][(datum.value-1)/10]"}}
},
"layer": [
{"data": {"name": "daily"},
 "mark": {"type": "bar", "width": 1.6},
 "encoding": {
  "y": {"field": "v", "type": "quantitative", "scale": {"domain": [0, 350], "nice": false},
   "axis": {"values": [0,50,100,150,200,250,300,350]}},
  "color": {"datum": "bar", "type": "nominal"}}},
{"data": {"name": "avg"},
 "mark": {"type": "line", "strokeWidth": 4.3, "invalid": "break-paths-show-domains"},
 "encoding": {
  "y": {"field": "v", "type": "quantitative"},
  "color": {"field": "a", "type": "nominal",
   "scale": {"domain": ["bar", "2019", "2020", "2021"], "range": ["#c9c8bc", "#0095da", "#00873d", "#e3001b"]},
   "legend": {"symbolStrokeWidth": {"expr": "datum.value == 'bar' ? 9 : 4.5"},
    "labelExpr": "datum.label == 'bar' ? 'Import - indekseret daglig værdi for 2021' : (datum.label == '2019' ? 'Import - Indekseret glidende 7 dags gennemsnit for 2019' : 'Import - indekseret glidende 7 dags gennemsnit for ' + datum.label)"}}
 }},
{"data": {"name": "paaske"},
 "mark": {"type": "rule", "color": "black", "strokeWidth": 1.6},
 "encoding": {"y": {"datum": 0, "type": "quantitative"}, "y2": {"datum": 304}}},
{"data": {"name": "aarstal"},
 "mark": {"type": "text", "fontSize": 17, "fontWeight": "bold", "baseline": "middle", "align": "center"},
 "encoding": {"y": {"field": "v", "type": "quantitative"}, "text": {"field": "a"},
  "color": {"condition": [{"test": "datum.a == '2021'", "value": "#ff0000"}, {"test": "datum.a == '2020'", "value": "#00873d"}], "value": "#0095da"}}},
{"data": {"name": "overskrift"},
 "mark": {"type": "text", "fontSize": 17.5, "baseline": "middle", "align": "center", "color": "#6e6b61"},
 "encoding": {"y": {"field": "v", "type": "quantitative"}, "text": {"field": "t"}}}
]
}
